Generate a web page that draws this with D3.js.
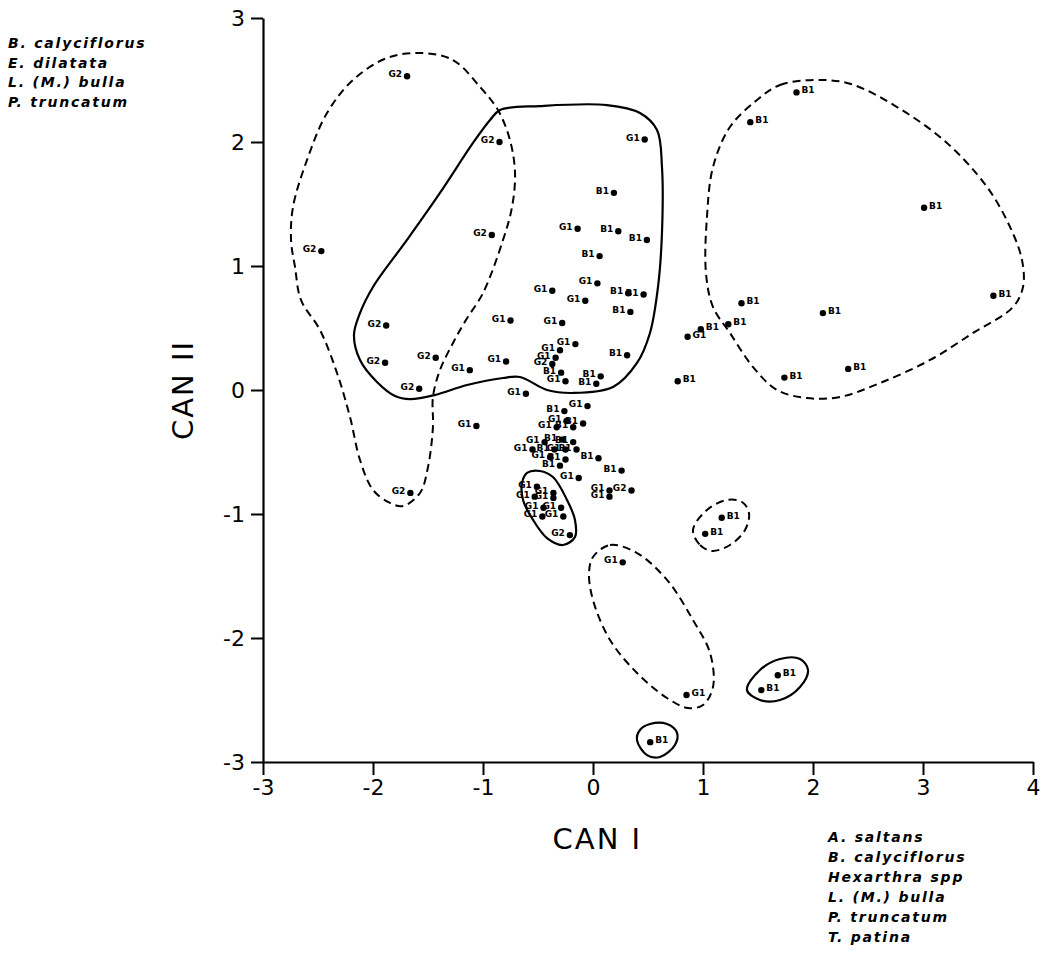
<!DOCTYPE html>
<html>
<head>
<meta charset="utf-8">
<script src="https://cdn.jsdelivr.net/npm/d3@7"></script>
<style>
  html, body { margin: 0; padding: 0; background: #fff; }
  svg { display: block; }
</style>
</head>
<body>
<svg id="chart" width="1041" height="960"></svg>
<script>
// ---------- DATA ----------
const xTicks = [-3, -2, -1, 0, 1, 2, 3, 4];
const yTicks = [-3, -2, -1, 0, 1, 2, 3];
const xTitle = "CAN I";
const yTitle = "CAN II";

const legendTopLeft = ["B. calyciflorus", "E. dilatata", "L. (M.) bulla", "P. truncatum"];
const legendBottomRight = ["A. saltans", "B. calyciflorus", "Hexarthra spp", "L. (M.) bulla", "P. truncatum", "T. patina"];

// canonical scores (CAN I, CAN II) and group label of every sample
const canI = [
  -1.69, -0.85, -0.92, -2.47, -1.88, -1.89, -1.43, -1.58, -1.66,
   0.47,  0.19, -0.14,  0.23,  0.49,  0.06,  0.04, -0.37, -0.07,
   0.32,  0.46,  0.34, -0.75, -0.28, -0.16, -1.12, -0.79,  0.31,
  -0.30, -0.34, -0.37, -0.29, -0.25,  0.07,  0.03, -0.61, -1.06,
  -0.26, -0.05, -0.24, -0.18, -0.09, -0.33, -0.18, -0.44, -0.55,
  -0.28, -0.35, -0.25, -0.39, -0.25, -0.15, -0.30,  0.05,  0.26,
  -0.13,  0.15,  0.15,  0.35, -0.51, -0.53, -0.36, -0.36, -0.45,
  -0.29, -0.46, -0.27, -0.21,  0.27,  1.17,  1.02,  0.85,  1.68,
   1.53,  0.52,  1.85,  1.43,  3.01,  3.64,  1.35,  2.09,  1.23,
   0.98,  0.86,  1.74,  2.32,  0.77
];
const canII = [
   2.53,  2.00,  1.25,  1.12,  0.52,  0.22,  0.26,  0.01, -0.83,
   2.02,  1.59,  1.30,  1.28,  1.21,  1.08,  0.86,  0.80,  0.72,
   0.78,  0.77,  0.63,  0.56,  0.54,  0.37,  0.16,  0.23,  0.28,
   0.32,  0.26,  0.21,  0.14,  0.07,  0.11,  0.05, -0.03, -0.29,
  -0.17, -0.13, -0.25, -0.30, -0.27, -0.30, -0.42, -0.42, -0.48,
  -0.40, -0.48, -0.48, -0.54, -0.56, -0.48, -0.61, -0.55, -0.65,
  -0.71, -0.81, -0.86, -0.81, -0.78, -0.86, -0.83, -0.87, -0.95,
  -0.95, -1.02, -1.02, -1.17, -1.39, -1.03, -1.16, -2.46, -2.30,
  -2.42, -2.84,  2.40,  2.16,  1.47,  0.76,  0.70,  0.62,  0.53,
   0.49,  0.43,  0.10,  0.17,  0.07
];
const group = [
  "G2","G2","G2","G2","G2","G2","G2","G2","G2",
  "G1","B1","G1","B1","B1","B1","G1","G1","G1",
  "B1","B1","B1","G1","G1","G1","G1","G1","B1",
  "G1","G1","G2","B1","G1","B1","B1","G1","G1",
  "B1","G1","G1","B1","B1","G1","B1","G1","G1",
  "B1","B1","G1","G1","B1","B1","B1","B1","B1",
  "G1","G1","G1","G2","G1","G1","G1","G1","G1",
  "G1","G1","G1","G2","G1","B1","B1","G1","B1",
  "B1","B1","B1","B1","B1","B1","B1","B1","B1",
  "B1","G1","B1","B1","B1"
];

// hand-drawn group envelopes, in (CAN I, CAN II) units
const hullSolidMain = [
  [-0.845,2.258],[-0.482,2.290],[0.127,2.298],[0.427,2.234],[0.582,2.097],[0.627,1.798],
  [0.627,1.266],[0.591,0.831],[0.518,0.460],[0.400,0.218],[0.182,0.024],[-0.182,-0.024],
  [-0.418,0.000],[-0.664,0.105],[-0.818,0.097],[-1.145,0.040],[-1.436,-0.040],[-1.664,-0.073],
  [-1.800,-0.048],[-1.964,0.065],[-2.118,0.242],[-2.173,0.444],[-2.118,0.621],[-2.000,0.831],
  [-1.691,1.210],[-1.391,1.589],[-1.091,1.992],[-0.936,2.177]
];
const hullDashedLeft = [
  [-1.573,2.718],[-1.273,2.661],[-1.027,2.444],[-0.864,2.258],[-0.755,2.016],[-0.709,1.750],
  [-0.736,1.476],[-0.818,1.210],[-1.000,0.782],[-1.155,0.565],[-1.273,0.379],[-1.391,0.161],
  [-1.455,-0.056],[-1.455,-0.298],[-1.500,-0.621],[-1.573,-0.831],[-1.727,-0.935],[-1.845,-0.911],
  [-2.000,-0.806],[-2.118,-0.565],[-2.209,-0.218],[-2.327,0.137],[-2.482,0.484],[-2.655,0.726],
  [-2.709,0.992],[-2.745,1.210],[-2.727,1.476],[-2.600,1.855],[-2.418,2.234],[-2.182,2.500],
  [-1.873,2.677]
];
const hullDashedRight = [
  [1.491,2.339],[1.700,2.460],[2.018,2.500],[2.336,2.470],[2.764,2.282],[3.218,1.992],
  [3.582,1.637],[3.791,1.315],[3.900,1.048],[3.909,0.831],[3.818,0.669],[3.455,0.460],
  [3.064,0.242],[2.609,0.056],[2.245,-0.056],[1.945,-0.065],[1.673,0.000],[1.455,0.185],
  [1.245,0.460],[1.091,0.669],[1.027,0.944],[1.036,1.395],[1.091,1.798],[1.245,2.121]
];
const hullDashedPair = [
  [0.909,-1.129],[0.973,-1.250],[1.082,-1.298],[1.245,-1.250],[1.382,-1.129],
  [1.418,-0.992],[1.355,-0.903],[1.218,-0.887],[1.036,-0.968]
];
const hullDashedLong = [
  [0.000,-1.347],[0.155,-1.250],[0.400,-1.315],[0.673,-1.532],[0.909,-1.855],[1.064,-2.121],
  [1.091,-2.395],[1.000,-2.540],[0.864,-2.565],[0.673,-2.484],[0.400,-2.282],[0.155,-2.016],
  [0.000,-1.694],[-0.036,-1.476]
];
const hullSolidPair = [
  [1.400,-2.419],[1.518,-2.500],[1.700,-2.500],[1.882,-2.395],
  [1.955,-2.258],[1.882,-2.169],[1.700,-2.169],[1.518,-2.258]
];
const hullSolidSingle = [
  [0.400,-2.823],[0.491,-2.944],[0.609,-2.960],[0.745,-2.863],
  [0.764,-2.766],[0.673,-2.694],[0.518,-2.694],[0.427,-2.742]
];
const hullSolidCluster = [
  [-0.645,-0.750],[-0.600,-0.669],[-0.482,-0.653],[-0.364,-0.702],[-0.236,-0.887],
  [-0.164,-1.048],[-0.164,-1.185],[-0.273,-1.250],[-0.418,-1.194],[-0.545,-1.048],
  [-0.636,-0.887]
];

// ---------- DRAWING ----------
const svg = d3.select("#chart");
const FONT = "'DejaVu Sans', 'Liberation Sans', sans-serif";

const x = d3.scaleLinear().domain([-3, 4]).range([263, 1033]);
const y = d3.scaleLinear().domain([-3, 3]).range([762, 18]);

// axes
const gx = svg.append("g").attr("transform", `translate(0,${y(-3)})`)
  .call(d3.axisBottom(x).tickValues(xTicks).tickSize(13).tickSizeOuter(0)
        .tickPadding(4).tickFormat(d => String(d)));
const gy = svg.append("g").attr("transform", `translate(${x(-3)},0)`)
  .call(d3.axisLeft(y).tickValues(yTicks).tickSize(12).tickSizeOuter(0)
        .tickPadding(6).tickFormat(d => String(d)));
[gx, gy].forEach(g => {
  g.select(".domain").attr("stroke", "#000").attr("stroke-width", 2.2);
  g.selectAll(".tick line").attr("stroke", "#000").attr("stroke-width", 2);
  g.selectAll(".tick text").attr("fill", "#000")
    .style("font-family", FONT).style("font-size", "22px");
});
gy.selectAll(".tick text").attr("dy", "0.36em");

// axis titles
svg.append("text").text(xTitle)
  .attr("x", x(0.04)).attr("y", 849).attr("text-anchor", "middle")
  .style("font-family", FONT).style("font-size", "29px").style("letter-spacing", "2px");
svg.append("text").text(yTitle)
  .attr("transform", `translate(193,${y(0)}) rotate(-90)`)
  .attr("text-anchor", "middle")
  .style("font-family", FONT).style("font-size", "29px").style("letter-spacing", "2px");

// envelopes
const line = d3.line().x(d => x(d[0])).y(d => y(d[1]))
  .curve(d3.curveCatmullRomClosed.alpha(0.5));
const solidHulls = [hullSolidMain, hullSolidPair, hullSolidSingle, hullSolidCluster];
const dashedHulls = [hullDashedLeft, hullDashedRight, hullDashedPair, hullDashedLong];
svg.append("g").selectAll("path").data(solidHulls).join("path")
  .attr("d", line).attr("fill", "none").attr("stroke", "#000").attr("stroke-width", 2.2);
svg.append("g").selectAll("path").data(dashedHulls).join("path")
  .attr("d", line).attr("fill", "none").attr("stroke", "#000").attr("stroke-width", 2)
  .attr("stroke-dasharray", "8,5");

// points
const pts = canI.map((v, i) => ({ cx: v, cy: canII[i], g: group[i] }));
const gp = svg.append("g");
gp.selectAll("circle").data(pts).join("circle")
  .attr("cx", d => x(d.cx)).attr("cy", d => y(d.cy)).attr("r", 3.2).attr("fill", "#000");
gp.selectAll("text").data(pts).join("text")
  .text(d => d.g)
  .attr("x", d => d.cx > 0.5 ? x(d.cx) + 5 : x(d.cx) - 5)
  .attr("y", d => y(d.cy) + 1)
  .attr("text-anchor", d => d.cx > 0.5 ? "start" : "end")
  .style("font-family", FONT).style("font-weight", "bold").style("font-size", "9px");

// legends
function legend(items, x0, y0, dy) {
  svg.append("g").selectAll("text").data(items).join("text")
    .text(d => d)
    .attr("x", x0).attr("y", (d, i) => y0 + i * dy)
    .style("font-family", FONT).style("font-weight", "bold").style("font-style", "italic")
    .style("font-size", "14px").style("letter-spacing", "1.8px");
}
legend(legendTopLeft, 8, 48, 19.5);
legend(legendBottomRight, 828, 842, 20);
</script>
</body>
</html>
